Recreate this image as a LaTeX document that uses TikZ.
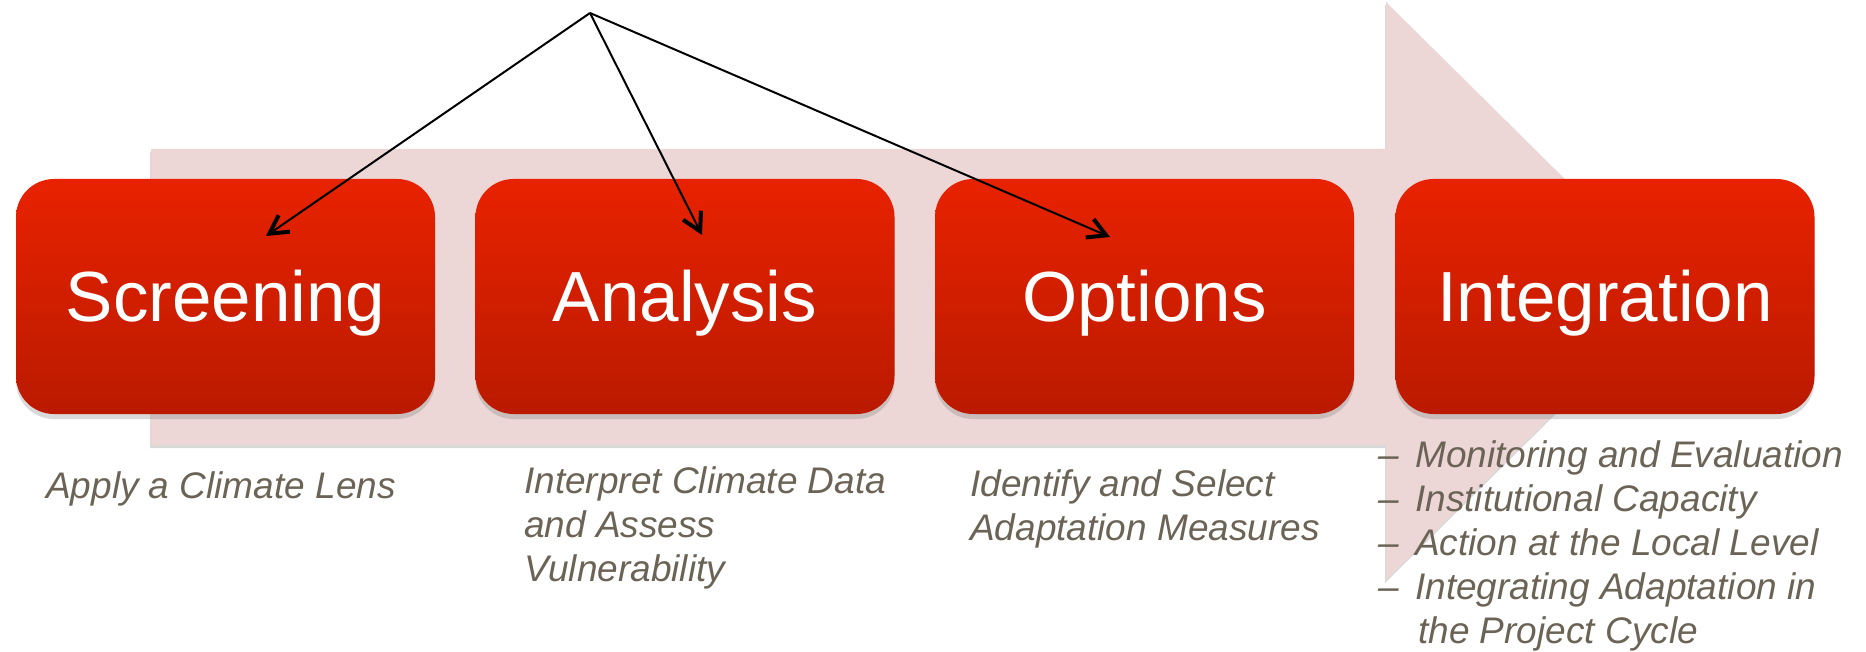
\documentclass[tikz,border=0pt]{standalone}
\usepackage{fontspec}
\setmainfont{Liberation Sans}
\usetikzlibrary{arrows.meta,shadows}
\definecolor{pinkbg}{RGB}{236,214,214}
\definecolor{boxtop}{RGB}{232,34,0}
\definecolor{boxbot}{RGB}{186,26,0}
\definecolor{subtxt}{RGB}{107,100,86}
\newcommand{\dashitem}{\makebox[37pt][l]{–}}
\tikzset{
 stepbox/.style={rounded corners=38pt, minimum width=419pt, minimum height=235pt, inner sep=0pt,
   top color=boxtop, bottom color=boxbot, draw=none, text=white,
   font=\fontsize{71}{80}\selectfont, text height=51pt, text depth=0pt,
   drop shadow={shadow xshift=0pt, shadow yshift=-5pt, opacity=0.3}},
 subtext/.style={anchor=base west, inner sep=0pt, align=left, text=subtxt,
   font=\fontsize{37}{44}\itshape\selectfont},
 pointer/.style={-{Straight Barb[length=18pt,width=20pt,line width=4pt]}, line width=2pt, black},
 bigarrow/.style={fill=pinkbg, drop shadow={shadow xshift=-1pt, shadow yshift=-3pt, opacity=0.3}}
}
\begin{document}
\begin{tikzpicture}[x=1pt,y=-1pt]
\useasboundingbox (0,0) rectangle (1866,652);
% big background arrow
\path[bigarrow] (151,149) -- (1386,149) -- (1386,2) -- (1678,291) -- (1386,580) -- (1386,445) -- (151,445) -- cycle;
% step boxes
\node[stepbox] (scr) at (225.5,296.5) {Screening};
\node[stepbox] (ana) at (685,296.5) {Analysis};
\node[stepbox] (opt) at (1144.5,296.5) {Options};
\node[stepbox] (int) at (1605,296.5) {Integration};
% sub texts (anchored at the baseline of their last line)
\node[subtext] (scrt) at (46,498) {Apply a Climate Lens};
\node[subtext] (anat) at (524,581) {Interpret Climate Data\\and Assess\\Vulnerability};
\node[subtext] (optt) at (970,540) {Identify and Select\\Adaptation Measures};
\node[subtext] (intt) at (1378,643) {\dashitem Monitoring and Evaluation\\\dashitem Institutional Capacity\\\dashitem Action at the Local Level\\\dashitem Integrating Adaptation in\\\hspace*{40pt}the Project Cycle};
% pointers
\coordinate (apex) at (590,13);
\coordinate (e1) at (266,236);
\coordinate (e2) at (702,235);
\coordinate (e3) at (1110,237);
\draw[pointer] (apex) -- (e1);
\draw[pointer] (apex) -- (e2);
\draw[pointer] (apex) -- (e3);
\end{tikzpicture}
\end{document}
